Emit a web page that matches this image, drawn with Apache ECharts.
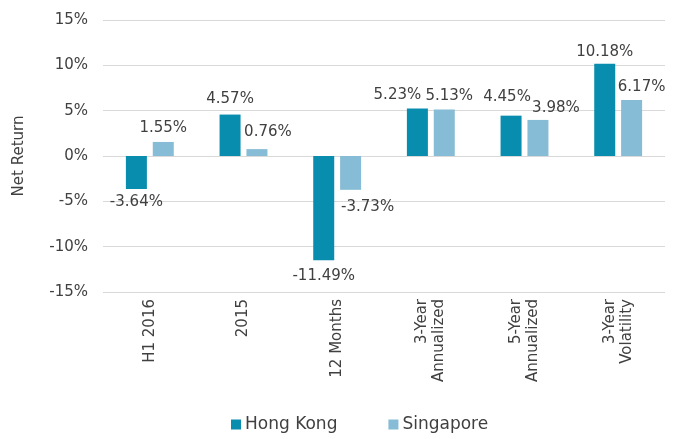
<!DOCTYPE html>
<html>
<head>
    <meta charset="utf-8">
    <title>Net Return</title>
    <script src="https://cdn.jsdelivr.net/npm/echarts@6/dist/echarts.min.js"></script>
    <style>
        html, body { margin: 0; padding: 0; background: #fff; }
        #main { width: 682px; height: 439px; }
    </style>
</head>
<body>
<div id="main"></div>
<script type="text/javascript">
    // categories on the x axis
    var categories = ['H1 2016', '2015', '12 Months', '3-Year\nAnnualized', '5-Year\nAnnualized', '3-Year\nVolatility'];
    // net return, percent
    var hongKong = [-3.64, 4.57, -11.49, 5.23, 4.45, 10.18];
    var singapore = [1.55, 0.76, -3.73, 5.13, 3.98, 6.17];
    var yTicks = [-15, -10, -5, 0, 5, 10, 15];

    // label nudges (px) so overlapping labels sit like the original
    var hkLabelShift = [[0, 0], [0, -2], [0, 2], [-20, 0], [-4, -5], [0, 2]];
    var sgLabelShift = [[0, 0], [11, -3], [17, 4], [5, 0], [18, 2], [10, 1]];

    var font = 'DejaVu Sans';
    var textColor = '#404040';

    var myChart = echarts.init(document.getElementById('main'));

    function pct(p) { return p.value.toFixed(2) + '%'; }

    function withShift(values, shifts) {
        return values.map(function (v, i) {
            return { value: v, label: { offset: shifts[i] } };
        });
    }

    var labelStyle = {
        show: true,
        position: 'outside',
        distance: 6,
        fontFamily: font,
        fontSize: 15,
        color: textColor,
        formatter: pct
    };

    var option = {
        animation: false,
        textStyle: { fontFamily: font, color: textColor },
        grid: { left: 103, right: 17, top: 20, bottom: 147 },
        legend: {
            bottom: 1,
            left: 226,
            itemWidth: 10,
            itemHeight: 10,
            itemGap: 51,
            icon: 'rect',
            textStyle: { fontFamily: font, fontSize: 17, color: textColor, padding: [0, 0, 0, -1] },
            data: ['Hong Kong', 'Singapore']
        },
        xAxis: {
            type: 'category',
            data: categories,
            axisLine: { show: false },
            axisTick: { show: false },
            axisLabel: {
                rotate: 90,
                margin: 7,
                fontFamily: font,
                fontSize: 15,
                color: textColor,
                lineHeight: 17
            }
        },
        yAxis: {
            type: 'value',
            min: yTicks[0],
            max: yTicks[yTicks.length - 1],
            interval: 5,
            name: 'Net Return',
            nameLocation: 'middle',
            nameGap: 76,
            nameTextStyle: { fontFamily: font, fontSize: 15, color: textColor },
            axisLine: { show: false },
            axisTick: { show: false },
            axisLabel: {
                margin: 15,
                fontFamily: font,
                fontSize: 15,
                color: textColor,
                formatter: '{value}%'
            },
            splitLine: { lineStyle: { color: '#d9d9d9', width: 1 } }
        },
        series: [{
            name: 'Hong Kong',
            type: 'bar',
            data: withShift(hongKong, hkLabelShift),
            barWidth: 21,
            barGap: '28%',
            itemStyle: { color: '#088daf' },
            label: labelStyle
        }, {
            name: 'Singapore',
            type: 'bar',
            data: withShift(singapore, sgLabelShift),
            barWidth: 21,
            itemStyle: { color: '#86bcd5' },
            label: labelStyle
        }]
    };
    myChart.setOption(option);
</script>
</body>
</html>
